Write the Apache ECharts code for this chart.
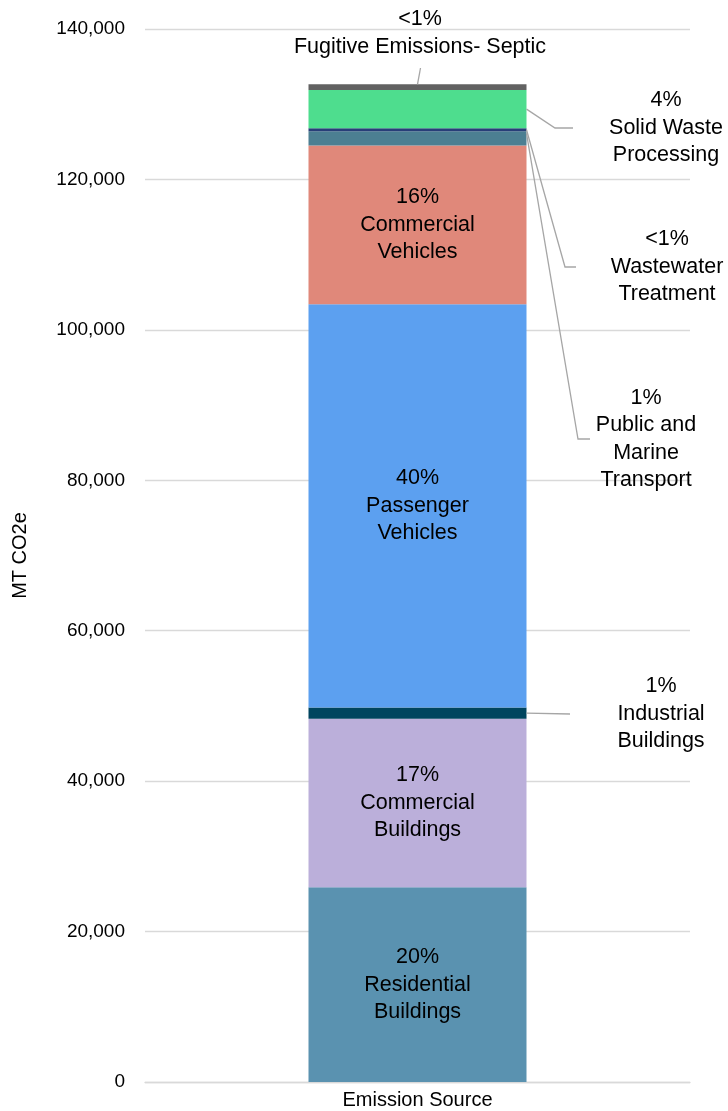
<!DOCTYPE html>
<html>
<head>
<meta charset="utf-8">
<script src="https://cdn.jsdelivr.net/npm/echarts@6/dist/echarts.min.js"></script>
<style>
html,body{margin:0;padding:0;background:#fff;}
#chart{width:728px;height:1111px;}
</style>
</head>
<body>
<div id="chart"></div>
<script>
const categories = ['Emission Source'];
const seriesNames = ['Residential Buildings', 'Commercial Buildings', 'Industrial Buildings', 'Passenger Vehicles', 'Commercial Vehicles', 'Public and Marine Transport', 'Wastewater Treatment', 'Solid Waste Processing', 'Fugitive Emissions- Septic'];
const seriesValues = [25900, 22400, 1500, 53600, 21100, 1900, 400, 5100, 750];
const pctLabels = ['20%', '17%', '1%', '40%', '16%', '1%', '<1%', '4%', '<1%'];
const labelTexts = ['Residential\nBuildings', 'Commercial\nBuildings', 'Industrial\nBuildings', 'Passenger\nVehicles', 'Commercial\nVehicles', 'Public and\nMarine\nTransport', 'Wastewater\nTreatment', 'Solid Waste\nProcessing', 'Fugitive Emissions- Septic'];
const yTicks = [0, 20000, 40000, 60000, 80000, 100000, 120000, 140000];

const colors = ['#5A92B0', '#BBAFDA', '#00455F', '#5CA0F0', '#E0887A', '#4C7F92', '#283E78', '#4EDD8E', '#626262'];

// label placement (style/layout only)
const outside = {
  2: {x: 661, y: 714, seg: 0, gap: 91, af: 0.5},
  5: {x: 646, y: 439, seg: 12, gap: 56, af: 0.15},
  6: {x: 667, y: 267, seg: 11, gap: 91, af: 0.5},
  7: {x: 666, y: 128, seg: 18, gap: 93, af: 0.5},
  8: {x: 420, y: 33, top: true}
};

const FONT = '"Liberation Sans", Arial, sans-serif';

const series = seriesNames.map((name, i) => {
  const o = outside[i];
  const s = {
    name: name,
    type: 'bar',
    stack: 'total',
    barWidth: '40%',
    data: [seriesValues[i]],
    itemStyle: {color: colors[i]},
    label: {
      show: true,
      position: 'inside',
      formatter: pctLabels[i] + '\n' + labelTexts[i],
      color: '#000',
      fontFamily: FONT,
      fontSize: 21.5,
      lineHeight: 27.5,
      align: 'center'
    },
    emphasis: {disabled: true}
  };
  if (o) {
    s.labelLayout = function () {
      return {x: o.x, y: o.y, align: 'center', verticalAlign: 'middle'};
    };
  }
  return s;
});

const chart = echarts.init(document.getElementById('chart'), null, {renderer: 'canvas'});
chart.setOption({
  animation: false,
  backgroundColor: '#fff',
  grid: {left: 145, right: 38, top: 29, bottom: 29, containLabel: false},
  xAxis: {
    type: 'category',
    data: categories,
    axisLine: {show: true, lineStyle: {color: '#d9d9d9', width: 1.3}},
    axisTick: {show: false},
    axisLabel: {color: '#000', fontFamily: FONT, fontSize: 20, margin: 8}
  },
  yAxis: {
    type: 'value',
    min: yTicks[0],
    max: yTicks[yTicks.length - 1],
    interval: yTicks[1] - yTicks[0],
    name: 'MT CO2e',
    nameLocation: 'middle',
    nameGap: 115,
    nameTextStyle: {color: '#000', fontFamily: FONT, fontSize: 20},
    axisLine: {show: false},
    axisTick: {show: false},
    splitLine: {lineStyle: {color: '#d9d9d9', width: 1.3}},
    axisLabel: {
      color: '#000', fontFamily: FONT, fontSize: 19, margin: 20,
      formatter: v => v.toLocaleString('en-US')
    }
  },
  series: series
});

// Leader lines computed from the library's own bar layout
const model = chart.getModel();
const graphics = [];
Object.keys(outside).forEach(k => {
  const i = +k;
  const o = outside[i];
  const L = model.getSeriesByIndex(i).getData().getItemLayout(0);
  const rx = Math.min(L.x, L.x + L.width), rw = Math.abs(L.width);
  const ry = Math.min(L.y, L.y + L.height), rh = Math.abs(L.height);
  let pts;
  if (o.top) {
    const cx = rx + rw / 2;
    pts = [[cx, ry], [cx + 3, o.y + 35]];
  } else {
    const anchor = [rx + rw, ry + rh * o.af];
    const endX = o.x - o.gap;
    pts = [anchor, [endX - o.seg, o.y], [endX, o.y]];
  }
  graphics.push({
    type: 'polyline',
    silent: true,
    z: 100,
    shape: {points: pts},
    style: {stroke: '#a6a6a6', lineWidth: 1.3, fill: null}
  });
});
chart.setOption({graphic: graphics});
</script>
</body>
</html>
